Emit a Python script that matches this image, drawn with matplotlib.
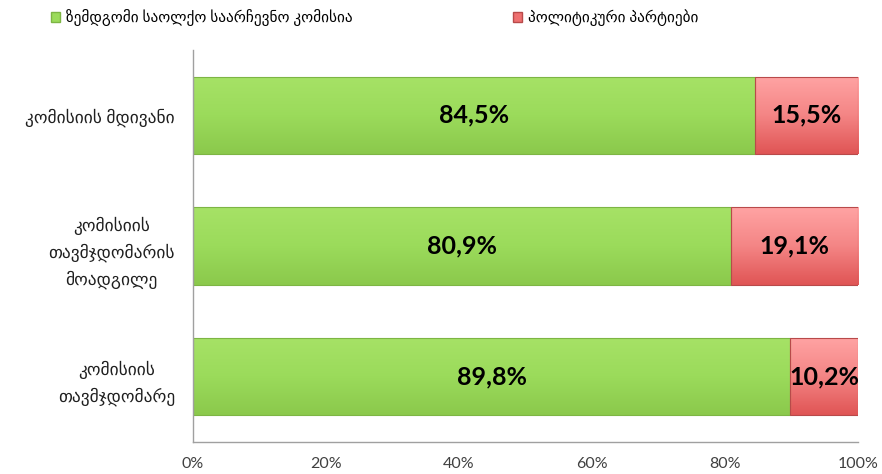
import numpy as np
import matplotlib
matplotlib.use("Agg")
import matplotlib.pyplot as plt
from matplotlib.colors import LinearSegmentedColormap
from matplotlib.patches import Patch

plt.rcParams['font.family'] = ['Lato', 'DejaVu Sans']

# data
categories = ['კომისიის\nთავმჯდომარე',
              'კომისიის\nთავმჯდომარის\nმოადგილე',
              'კომისიის მდივანი']
series_names = ['ზემდგომი საოლქო საარჩევნო კომისია', 'პოლიტიკური პარტიები']
commission = [89.8, 80.9, 84.5]
parties = [10.2, 19.1, 15.5]
xticks = [0, 20, 40, 60, 80, 100]

green = '#9BDB5B'
red = '#EE7878'

fig = plt.figure(figsize=(8.82, 4.74), dpi=100)
ax = fig.add_axes([0.2188, 0.0675, 0.754, 0.827])

y = np.arange(len(categories))
bars_g = ax.barh(y, commission, height=0.59, color=green,
                 edgecolor='#7DB544', linewidth=0.8)
bars_r = ax.barh(y, parties, left=commission, height=0.59, color=red,
                 edgecolor='#B84A4A', linewidth=0.8)

# vertical gradient inside each bar (light top, darker bottom)
grad = np.linspace(0, 1, 64).reshape(-1, 1)
cmap_g = LinearSegmentedColormap.from_list('g', ['#A6E266', '#9BDB5B', '#8BC94C'])
cmap_r = LinearSegmentedColormap.from_list('r', ['#FFA3A3', '#F48585', '#E05555'])
for bars, cm in ((bars_g, cmap_g), (bars_r, cmap_r)):
    for b in bars:
        x0, y0 = b.get_x(), b.get_y()
        w, h = b.get_width(), b.get_height()
        im = ax.imshow(grad, cmap=cm, aspect='auto', origin='upper',
                       extent=(x0, x0 + w, y0, y0 + h), zorder=b.get_zorder())
        im.set_clip_path(b)
        b.set_facecolor('none')
        b.set_zorder(b.get_zorder() + 0.1)

for i in range(len(categories)):
    ax.text(commission[i] / 2, y[i], f'{commission[i]:.1f}%'.replace('.', ','),
            ha='center', va='center', fontsize=18, fontweight='bold', color='black')
    ax.text(commission[i] + parties[i] / 2, y[i], f'{parties[i]:.1f}%'.replace('.', ','),
            ha='center', va='center', fontsize=18, fontweight='bold', color='black')

ax.set_xlim(0, 100)
ax.set_ylim(-0.5, len(categories) - 0.5)
ax.set_xticks(xticks)
ax.set_xticklabels([f'{t}%' for t in xticks], fontsize=11.5, color='#404040')
ax.set_yticks(y)
ax.set_yticklabels(categories, fontsize=12.5, color='#202020',
                   multialignment='center', linespacing=1.6)
ax.tick_params(axis='both', length=0)
ax.tick_params(axis='x', pad=11)
ax.tick_params(axis='y', pad=13)

for s in ('top', 'right'):
    ax.spines[s].set_visible(False)
for s in ('left', 'bottom'):
    ax.spines[s].set_color('#A0A0A0')
    ax.spines[s].set_linewidth(1)

handles = [Patch(facecolor=green, edgecolor='#7DB544'),
           Patch(facecolor='#EE7070', edgecolor='#B84A4A')]
fig.legend(handles=handles, labels=series_names, loc='center',
           bbox_to_anchor=(0.425, 0.963), ncol=2, frameon=False, fontsize=11,
           handlelength=0.6, handleheight=0.6, handletextpad=0.4, columnspacing=10.5)

fig.savefig('out.png', dpi=100)
